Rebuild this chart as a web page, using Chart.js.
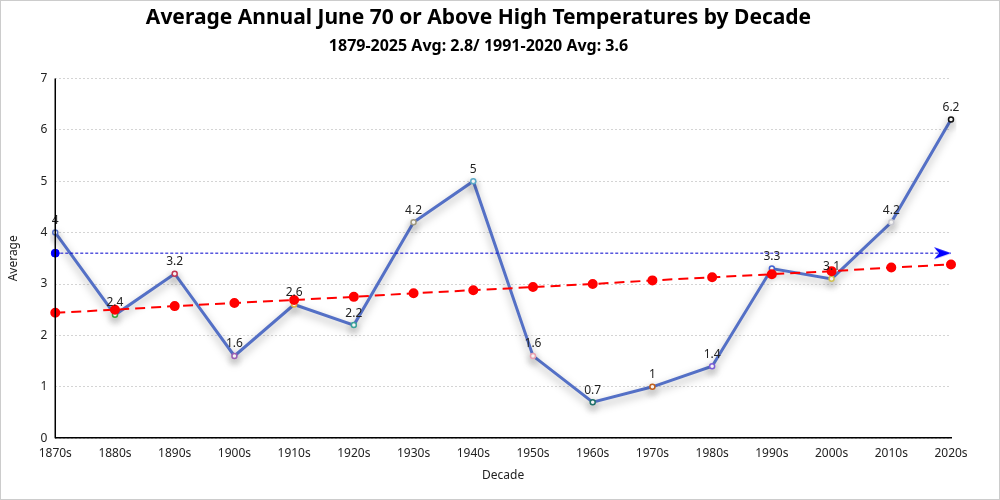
<!DOCTYPE html>
<html>
<head>
<meta charset="utf-8">
<script src="https://cdn.jsdelivr.net/npm/chart.js@4.4.1/dist/chart.umd.min.js"></script>
<style>
  html, body { margin: 0; padding: 0; background: #fff; }
  #wrap { width: 1000px; height: 500px; box-sizing: border-box; border: 1px solid #ccc; }
</style>
</head>
<body>
<div id="wrap"><canvas id="chart"></canvas></div>
<script>
const decades = ['1870s', '1880s', '1890s', '1900s', '1910s', '1920s', '1930s', '1940s',
  '1950s', '1960s', '1970s', '1980s', '1990s', '2000s', '2010s', '2020s'];
const averages = [4, 2.4, 3.2, 1.6, 2.6, 2.2, 4.2, 5, 1.6, 0.7, 1, 1.4, 3.3, 3.1, 4.2, 6.2];
const trend = [2.44, 2.5, 2.57, 2.63, 2.69, 2.75, 2.82, 2.88, 2.94, 3.0, 3.07, 3.13, 3.19, 3.25, 3.32, 3.38];
const normal = [3.6, 3.6, 3.6, 3.6, 3.6, 3.6, 3.6, 3.6, 3.6, 3.6, 3.6, 3.6, 3.6, 3.6, 3.6, 3.6];
const pointColors = ['#5470c6', '#3ba23b', '#c23553', '#9a60b4', '#e0b040', '#3ba29a', '#a09a80', '#5aaac8',
  '#e8a0b0', '#1f6f6a', '#c06020', '#7b5ed6', '#4060d0', '#d0c050', '#c8c8d0', '#111111'];

const fontFamily = '"Noto Sans", "Open Sans", sans-serif';

// arrow head used as the end marker of the 1991-2020 line (tip sits at the canvas centre)
const arrow = document.createElement('canvas');
arrow.width = 36;
arrow.height = 14;
(function () {
  const c = arrow.getContext('2d');
  c.fillStyle = '#0000ff';
  c.beginPath();
  c.moveTo(18, 7);
  c.lineTo(1, 1);
  c.lineTo(6, 7);
  c.lineTo(1, 13);
  c.closePath();
  c.fill();
})();

const shadowPlugin = {
  id: 'lineShadow',
  beforeDatasetDraw(chart, args) {
    if (args.index !== 0) return;
    const ctx = chart.ctx;
    ctx.save();
    ctx.shadowColor = 'rgba(0,0,0,0.35)';
    ctx.shadowBlur = 8;
    ctx.shadowOffsetY = 4;
  },
  afterDatasetDraw(chart, args) {
    if (args.index !== 0) return;
    chart.ctx.restore();
  }
};

const labelPlugin = {
  id: 'valueLabels',
  afterDatasetsDraw(chart) {
    const ctx = chart.ctx;
    const meta = chart.getDatasetMeta(0);
    ctx.save();
    ctx.font = '12px ' + fontFamily;
    ctx.fillStyle = '#222';
    ctx.textAlign = 'center';
    ctx.textBaseline = 'bottom';
    meta.data.forEach((pt, i) => {
      ctx.fillText(String(averages[i]), pt.x, pt.y - 6);
    });
    ctx.restore();
  }
};

// solid y axis line (grid lines are dotted)
const axisLinePlugin = {
  id: 'yAxisLine',
  afterDraw(chart) {
    const a = chart.chartArea;
    const ctx = chart.ctx;
    ctx.save();
    ctx.strokeStyle = '#000';
    ctx.lineWidth = 1.5;
    ctx.beginPath();
    ctx.moveTo(a.left, a.top);
    ctx.lineTo(a.left, a.bottom);
    ctx.stroke();
    ctx.restore();
  }
};

const lastIdx = normal.length - 1;

new Chart(document.getElementById('chart'), {
  type: 'line',
  data: {
    labels: decades,
    datasets: [{
      label: 'Average',
      data: averages,
      borderColor: '#5470c6',
      borderWidth: 3,
      pointRadius: 2.5,
      pointBorderWidth: 1.5,
      pointBackgroundColor: '#fff',
      pointBorderColor: pointColors,
      tension: 0,
      order: 3
    }, {
      label: 'Trend',
      data: trend,
      borderColor: '#ff0000',
      borderWidth: 2,
      borderDash: [10, 6],
      pointRadius: 4,
      pointBackgroundColor: '#ff0000',
      pointBorderColor: '#ff0000',
      order: 1
    }, {
      label: '1991-2020 Avg',
      data: normal,
      borderColor: '#0000cc',
      borderWidth: 1,
      borderDash: [3, 2],
      pointStyle: normal.map((v, i) => i === lastIdx ? arrow : 'circle'),
      pointRadius: normal.map((v, i) => (i === 0 || i === lastIdx) ? 4 : 0),
      pointBackgroundColor: '#0000ff',
      pointBorderColor: '#0000ff',
      order: 2
    }]
  },
  options: {
    responsive: true,
    maintainAspectRatio: false,
    animation: false,
    layout: { padding: { left: 5, right: 48, top: 2, bottom: 12 } },
    plugins: {
      legend: { display: false },
      tooltip: { enabled: false },
      title: {
        display: true,
        text: 'Average Annual June 70 or Above High Temperatures by Decade',
        color: '#000',
        font: { family: fontFamily, size: 21, weight: 'bold' },
        padding: { top: 2, bottom: 5 }
      },
      subtitle: {
        display: true,
        text: '1879-2025 Avg: 2.8/ 1991-2020 Avg: 3.6',
        color: '#000',
        font: { family: fontFamily, size: 16, weight: 'bold' },
        padding: { top: 2, bottom: 22 }
      }
    },
    scales: {
      x: {
        offset: false,
        grid: { display: false },
        border: { display: true, color: '#000', width: 1.5 },
        ticks: { color: '#222', font: { family: fontFamily, size: 12 }, maxRotation: 0, autoSkip: false, padding: 0 },
        title: { display: true, text: 'Decade', color: '#222', font: { family: fontFamily, size: 12 }, padding: { top: 8 } }
      },
      y: {
        min: 0,
        max: 7,
        ticks: { stepSize: 1, color: '#222', font: { family: fontFamily, size: 12 }, padding: 8 },
        grid: { color: '#d4d4d4', drawTicks: false },
        border: { display: false, dash: [2, 2] },
        title: { display: true, text: 'Average', color: '#222', font: { family: fontFamily, size: 12 }, padding: { top: 0, bottom: 12 } }
      }
    }
  },
  plugins: [shadowPlugin, labelPlugin, axisLinePlugin]
});
</script>
</body>
</html>
